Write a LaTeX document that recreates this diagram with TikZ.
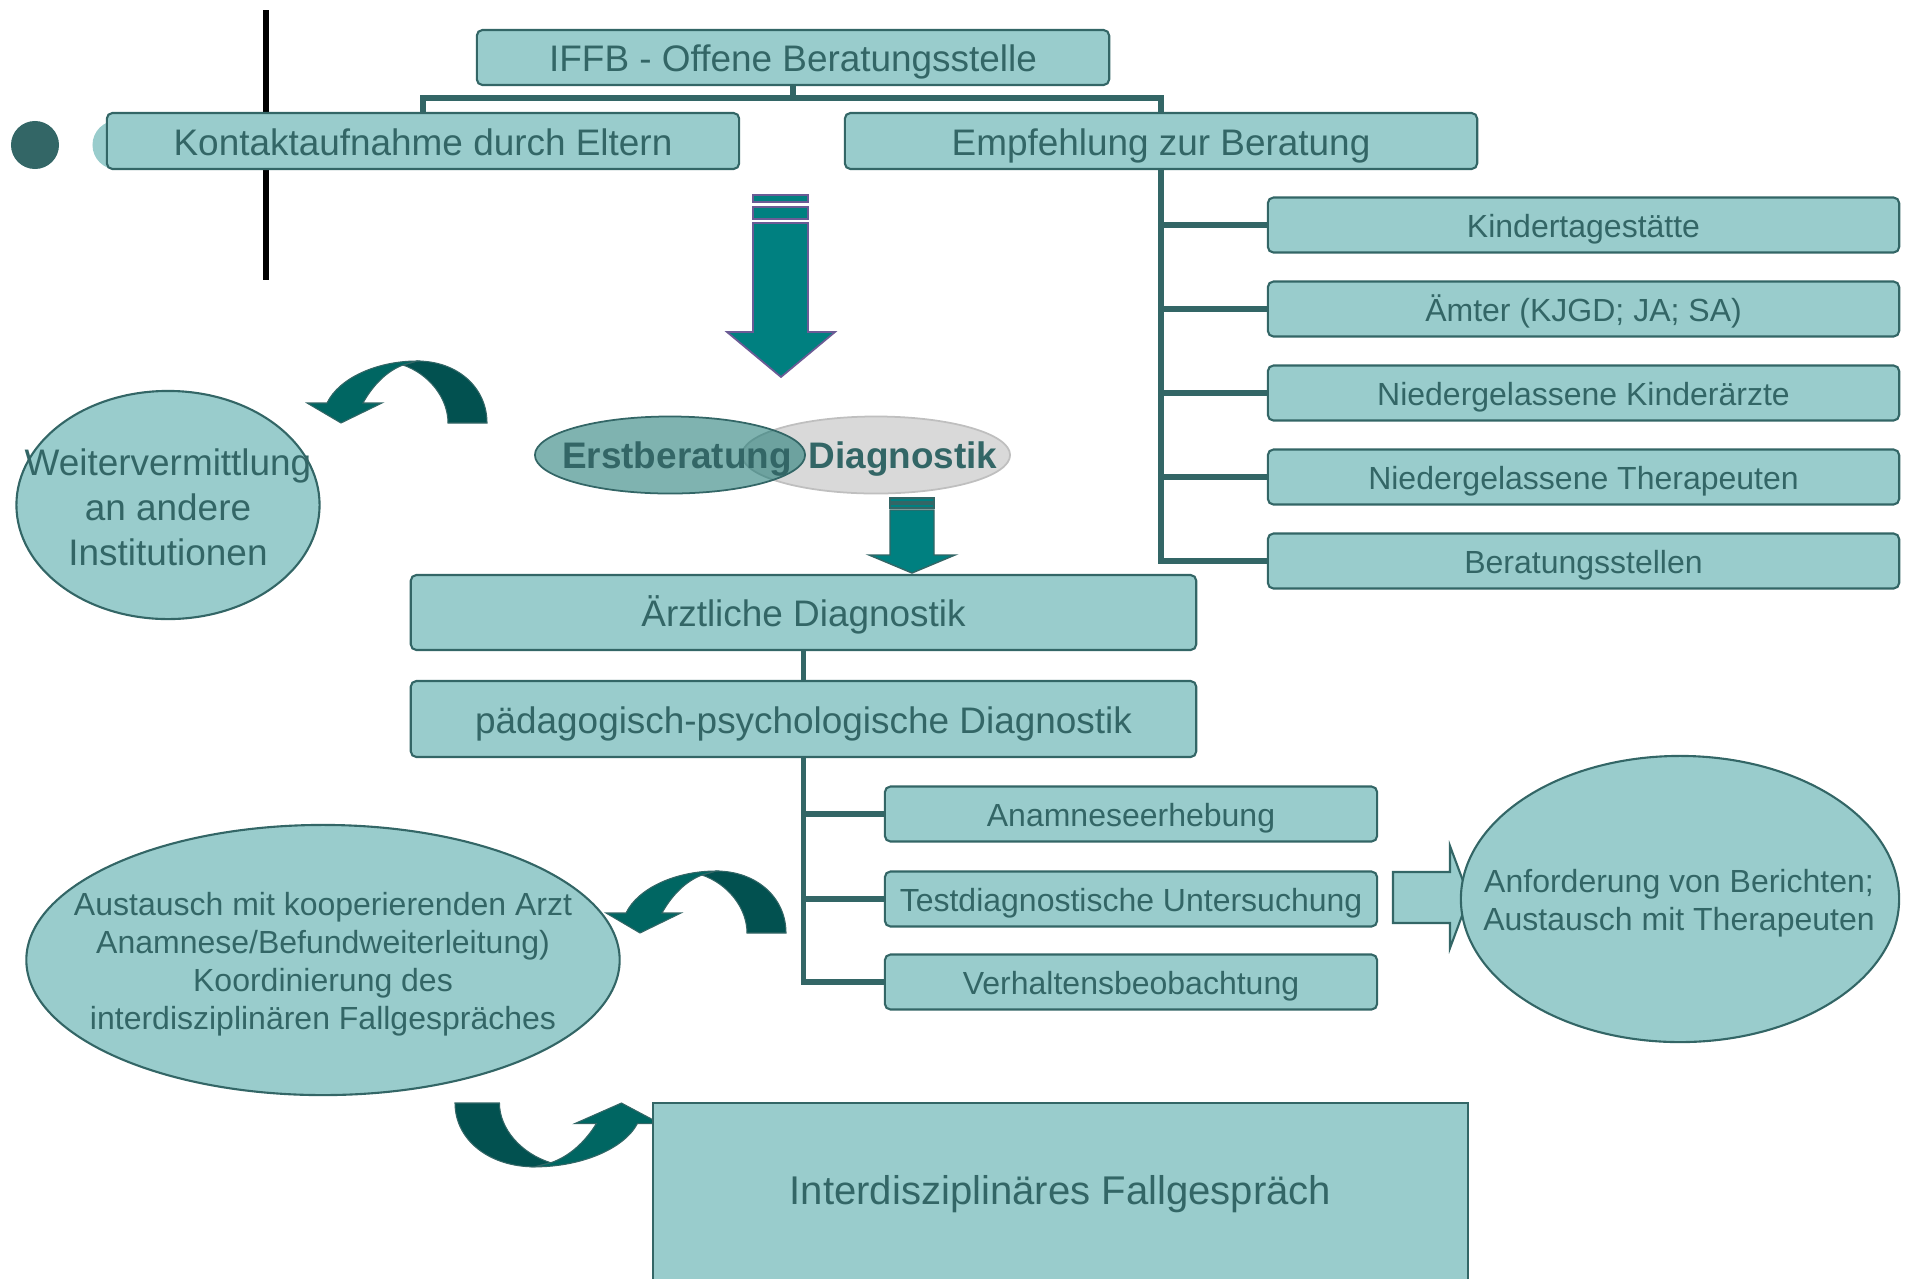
\documentclass[tikz,border=0pt]{standalone}
\usepackage{fontspec}
\setmainfont{Liberation Sans}
\usetikzlibrary{shapes.geometric}

\definecolor{boxfill}{HTML}{99CCCC}
\definecolor{frame}{HTML}{336666}
\definecolor{ink}{HTML}{336666}
\definecolor{arrowfill}{HTML}{008080}
\definecolor{arrowrim}{HTML}{6B5B95}
\definecolor{bendback}{HTML}{025150}
\definecolor{bendfront}{HTML}{006662}
\definecolor{erstfill}{HTML}{157570}
\definecolor{diagfill}{HTML}{D9D9D9}
\definecolor{diagrim}{HTML}{BFBFBF}

\newcommand{\fbig}{\fontsize{10.5}{12.8}\selectfont}
\newcommand{\fsmall}{\fontsize{9.1}{10.8}\selectfont}
\newcommand{\fhuge}{\fontsize{11.4}{13.7}\selectfont}
% curved arrow, origin at the outer foot of its tail
\newcommand{\bendarrow}{%
  \filldraw[fill=bendback,draw=frame,line width=0.3pt] (0,0) .. controls (0,-36) and (-30,-62) .. (-70,-62)
    -- (-84,-58) .. controls (-58,-49) and (-39,-25) .. (-39,0) -- cycle;
  \filldraw[fill=bendfront,draw=frame,line width=0.3pt] (-70,-62) .. controls (-110,-62) and (-148,-45) .. (-160,-20)
    -- (-180,-20) -- (-146,0) -- (-105,-20) -- (-124,-20)
    .. controls (-114,-38) and (-100,-52) .. (-84,-58) -- cycle;}

\begin{document}
\begin{tikzpicture}[x=0.01cm,y=-0.01cm]
\tikzset{box/.style = {draw=frame, fill=boxfill, rounded corners=1.6pt, line width=0.6pt, text=ink, inner sep=0pt, text height=0.905em, text depth=0.212em}}
\tikzset{bigbox/.style = {box, font=\fbig, text height=0.97em, text depth=0.15em}}
\tikzset{bubble/.style = {ellipse, draw=frame, fill=boxfill, line width=0.6pt, inner sep=0pt}}
\tikzset{bubtext/.style = {text=ink, align=center, inner sep=0pt}}
\tikzset{link/.style = {draw=frame, line width=1.5pt}}
\tikzset{arrowbody/.style = {fill=arrowfill, draw=arrowrim, line width=0.5pt}}

\useasboundingbox (0,0) rectangle (1906,1278);

% left marks
\draw[line width=1.7pt] (266,10) -- (266,280);
\fill[frame] (35,145) circle [radius=0.24cm];
\fill[boxfill] (117,145) circle [radius=0.245cm];

% top level
\node[bigbox, minimum width=6.32cm, minimum height=0.55cm] (iffb) at (793,57.5) {IFFB - Offene Beratungsstelle};
\node[bigbox, minimum width=6.32cm, minimum height=0.56cm] (kontakt) at (423,141) {Kontaktaufnahme durch Eltern};
\node[bigbox, minimum width=6.32cm, minimum height=0.56cm] (empf) at (1161,141) {Empfehlung zur Beratung};
\coordinate (bus) at (793,98);
\draw[link] (iffb.south) -- (bus);
\draw[link] (kontakt.north) |- (bus) -| (empf.north);

% referring places
\node[box, minimum width=6.31cm, minimum height=0.55cm, font=\fsmall] (r1) at (1583.5,225) {Kindertagestätte};
\node[box, minimum width=6.31cm, minimum height=0.55cm, font=\fsmall] (r2) at (1583.5,309) {Ämter (KJGD; JA; SA)};
\node[box, minimum width=6.31cm, minimum height=0.55cm, font=\fsmall] (r3) at (1583.5,393) {Niedergelassene Kinderärzte};
\node[box, minimum width=6.31cm, minimum height=0.55cm, font=\fsmall] (r4) at (1583.5,477) {Niedergelassene Therapeuten};
\node[box, minimum width=6.31cm, minimum height=0.55cm, font=\fsmall] (r5) at (1583.5,561) {Beratungsstellen};
\draw[link] (empf.south) |- (r5.west);
\foreach \r in {r1,r2,r3,r4}
  \draw[link] (empf.south |- \r.west) -- (\r.west);

% big arrow down
\filldraw[arrowbody] (753,195) rectangle (808,202);
\filldraw[arrowbody] (753,207) rectangle (808,219);
\filldraw[arrowbody] (753,223) -- (808,223) -- (808,332) -- (835,332) -- (781,377) -- (727,332) -- (753,332) -- cycle;

% first consultation
\node[ellipse, fill=diagfill, draw=diagrim, line width=0.5pt, minimum width=2.68cm, minimum height=0.77cm] (diag) at (876,455) {};
\node[ellipse, fill=erstfill, fill opacity=0.55, draw=frame, line width=0.5pt, minimum width=2.70cm, minimum height=0.77cm] (erst) at (670,455) {};
\node[font=\fbig\bfseries, text=ink, text height=0.905em, text depth=0.212em] (erstlabel) at (677,456) {Erstberatung};
\node[font=\fbig\bfseries, text=ink, text height=0.905em, text depth=0.212em] (diaglabel) at (903,456) {Diagnostik};

\node[bubble, minimum width=3.03cm, minimum height=2.28cm] (weiter) at (168,505) {};
\node[bubtext, font=\fontsize{10.5}{12.8}\selectfont] (weitertext) at (168,507) {Weitervermittlung\\an andere\\Institutionen};
\begin{scope}[shift={(487,423)}]
\bendarrow
\end{scope}

% small arrow down
\filldraw[fill=arrowfill, draw=frame, line width=0.4pt] (890,498) rectangle (934,502);
\filldraw[fill=arrowfill, draw=frame, line width=0.4pt] (890,504) rectangle (934,508);
\filldraw[fill=arrowfill, draw=frame, line width=0.4pt] (890,510) -- (934,510) -- (934,555) -- (955,555) -- (912,573) -- (869,555) -- (890,555) -- cycle;

% diagnostics
\node[bigbox, minimum width=7.85cm, minimum height=0.75cm] (aerztl) at (803.5,612.5) {Ärztliche Diagnostik};
\node[bigbox, minimum width=7.85cm, minimum height=0.76cm] (paed) at (803.5,719) {pädagogisch-psychologische Diagnostik};
\draw[link] (aerztl.south) -- (paed.north);

\node[box, minimum width=4.92cm, minimum height=0.55cm, font=\fsmall] (b1) at (1131,814) {Anamneseerhebung};
\node[box, minimum width=4.92cm, minimum height=0.55cm, font=\fsmall] (b2) at (1131,899) {Testdiagnostische Untersuchung};
\node[box, minimum width=4.92cm, minimum height=0.55cm, font=\fsmall] (b3) at (1131,982) {Verhaltensbeobachtung};
\draw[link] (paed.south) |- (b3.west);
\foreach \b in {b1,b2}
  \draw[link] (paed.south |- \b.west) -- (\b.west);

% reports
\filldraw[fill=boxfill, draw=frame, line width=0.6pt] (1393,872) -- (1450,872) -- (1450,846) -- (1469,897) -- (1450,948) -- (1450,923) -- (1393,923) -- cycle;
\node[bubble, minimum width=4.38cm, minimum height=2.86cm] (anford) at (1680,899) {};
\node[bubtext, font=\fsmall] (anfordtext) at (1679,903) {Anforderung von Berichten;\\Austausch mit Therapeuten};

% exchange with doctor
\node[bubble, minimum width=5.93cm, minimum height=2.70cm] (austausch) at (323,960) {};
\node[bubtext, font=\fsmall] (austauschtext) at (323,964) {Austausch mit kooperierenden Arzt\\Anamnese/Befundweiterleitung)\\Koordinierung des\\interdisziplinären Fallgespräches};
\begin{scope}[shift={(786,933)}]
\bendarrow
\end{scope}

% case conference
\begin{scope}[shift={(455,1103)}, rotate=180, xscale=1.14, yscale=1.03]
\bendarrow
\end{scope}
\node[box, rounded corners=0pt, minimum width=8.15cm, minimum height=1.78cm, font=\fhuge] (fall) at (1060.5,1192) {Interdisziplinäres Fallgespräch};
\end{tikzpicture}
\end{document}
